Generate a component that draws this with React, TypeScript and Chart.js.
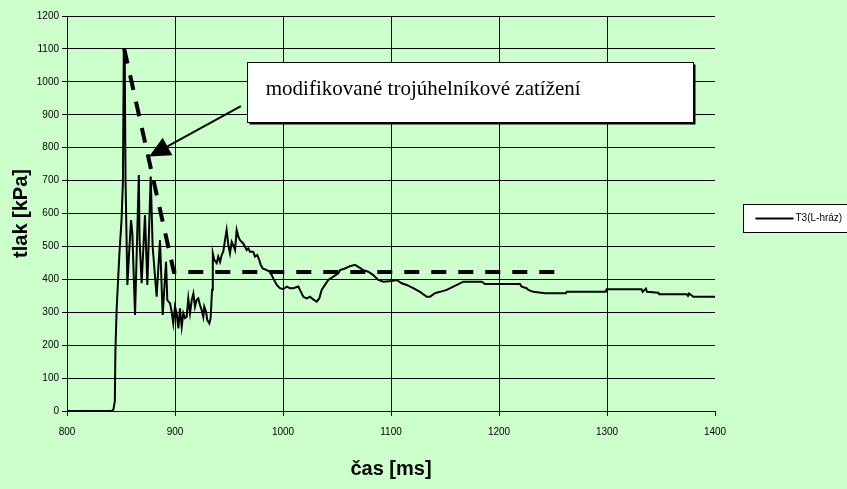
import React, { useEffect, useRef } from "react";
import { Chart, registerables } from "chart.js";

Chart.register(...registerables);

// ---------- data ----------
const seriesLabel = "T3(L-hráz)";

const timeMs = [
  800, 841.5, 843, 844.3, 844.8, 846, 848.4, 850.5, 851.8, 852.6, 853.4, 854.2, 855.9,
  857.5, 859.3, 860.5, 863, 866.5, 867.2, 869.1, 872.2, 874.4, 877.5, 879.3, 883, 886.1,
  888.6, 891.7, 892.9, 895.4, 896.9, 898.4, 900, 901.5, 903.1, 904.6, 906.2, 907.7, 909.3,
  910.8, 912.3, 913.9, 915.5, 917, 918.5, 920, 921.6, 923.1, 924.7, 926.2, 927.1, 928.7,
  929.9, 931.8, 933, 934.3, 935, 936.4, 938.6, 940, 941.7, 943.2, 944.7, 946.3, 947.8,
  949.4, 950.9, 952.5, 954, 955.6, 957.1, 958.6, 960.2, 963.2, 966.4, 967.9, 969.4, 972.5,
  974.1, 976.2, 978, 979.4, 981.2, 984.9, 988, 991, 994.2, 997.2, 1000.3, 1003.4, 1006.5,
  1009.5, 1014.2, 1015.7, 1018.8, 1021.9, 1025, 1028, 1031.2, 1033.6, 1035.8, 1038.9,
  1041.9, 1046.6, 1051.2, 1052.8, 1057.4, 1062, 1066.7, 1069.7, 1074.4, 1079, 1083.6,
  1088.2, 1092.9, 1100.6, 1105.3, 1109.9, 1114.5, 1120.6, 1126.9, 1133.1, 1136, 1140.7,
  1145.4, 1151.6, 1157.7, 1163.9, 1167, 1184, 1187, 1219.4, 1221, 1225.6, 1227.1, 1231.8,
  1242.6, 1262, 1262.7, 1298.8, 1299.7, 1332, 1333, 1336, 1337, 1347.5, 1348.4, 1373.8,
  1375, 1376, 1380, 1400,
];

const pressureKPa = [
  0, 0, 5, 30, 180, 312, 470, 580, 700, 1100, 1100, 700, 383,
  480, 580, 540, 292, 717, 520, 388, 595, 383, 712, 499, 347, 519,
  292, 453, 337, 327, 302, 266, 317, 297, 251, 312, 256, 297, 282,
  286, 342, 297, 337, 357, 317, 337, 342, 322, 307, 286, 317, 302,
  276, 266, 282, 368, 479, 459, 449, 469, 453, 474, 484, 519, 550,
  504, 479, 514, 504, 489, 550, 530, 519, 509, 489, 494, 484, 484,
  469, 474, 459, 444, 433, 428, 423, 403, 383, 373, 370, 378, 373,
  373, 378, 368, 347, 342, 347, 339, 332, 342, 368, 383,
  398, 408, 418, 428, 433, 440, 444, 438, 428, 423, 413,
  398, 393, 395, 398, 388, 383, 373, 362, 347, 347, 358,
  362, 368, 378, 388, 393, 393, 386, 386, 378, 373, 368, 362,
  358, 358, 362, 362, 370, 370, 362, 372, 362, 359, 355, 355,
  350, 357, 347, 347,
];

// modified triangular load (dashed)
const triangleTimeMs = [853, 899, 1253];
const triangleKPa = [1100, 422, 422];

const xTickValues = [800, 900, 1000, 1100, 1200, 1300, 1400];
const yTickValues = [0, 100, 200, 300, 400, 500, 600, 700, 800, 900, 1000, 1100, 1200];

const xTitle = "čas [ms]";
const yTitle = "tlak [kPa]";
const noteText = "modifikované trojúhelníkové zatížení";

// annotation placement in data units (box corners, text anchor, arrow start/tip)
const noteBox = { t1: 967, t2: 1380, p1: 1060, p2: 878 };
const noteTextAnchor = { t: 984, p: 976 };
const arrowFrom = { t: 961, p: 926 };
const arrowTo = { t: 876, p: 773 };

export default function App() {
  const canvasRef = useRef<HTMLCanvasElement | null>(null);

  useEffect(() => {
    const canvas = canvasRef.current;
    if (!canvas) return;

    const bgPlugin = {
      id: "bg",
      beforeDraw(chart: any) {
        const c = chart.ctx;
        c.save();
        c.fillStyle = "#CCFFCC";
        c.fillRect(0, 0, chart.width, chart.height);
        c.restore();
      },
    };

    const overlayPlugin = {
      id: "overlay",
      afterDraw(chart: any) {
        const c = chart.ctx;
        const xs = chart.scales.x;
        const ys = chart.scales.y;
        const area = chart.chartArea;
        c.save();

        // annotation box with shadow
        const bx1 = Math.round(xs.getPixelForValue(noteBox.t1)) + 0.5;
        const bx2 = Math.round(xs.getPixelForValue(noteBox.t2)) + 0.5;
        const by1 = Math.round(ys.getPixelForValue(noteBox.p1)) + 0.5;
        const by2 = Math.round(ys.getPixelForValue(noteBox.p2)) + 0.5;
        c.fillStyle = "#000";
        c.fillRect(bx1 + 2, by1 + 2, bx2 - bx1, by2 - by1);
        c.fillStyle = "#fff";
        c.fillRect(bx1, by1, bx2 - bx1, by2 - by1);
        c.strokeStyle = "#000";
        c.lineWidth = 1;
        c.strokeRect(bx1, by1, bx2 - bx1, by2 - by1);

        c.fillStyle = "#000";
        c.font = "21px 'Liberation Serif', 'Times New Roman', serif";
        c.textAlign = "left";
        c.textBaseline = "middle";
        c.fillText(
          noteText,
          xs.getPixelForValue(noteTextAnchor.t),
          ys.getPixelForValue(noteTextAnchor.p)
        );

        // arrow
        const ax1 = xs.getPixelForValue(arrowFrom.t);
        const ay1 = ys.getPixelForValue(arrowFrom.p);
        const ax2 = xs.getPixelForValue(arrowTo.t);
        const ay2 = ys.getPixelForValue(arrowTo.p);
        const dx = ax2 - ax1;
        const dy = ay2 - ay1;
        const len = Math.hypot(dx, dy);
        const ux = dx / len;
        const uy = dy / len;
        const headLen = 21;
        const headHalf = 10;
        const bxc = ax2 - ux * headLen;
        const byc = ay2 - uy * headLen;
        c.strokeStyle = "#000";
        c.lineWidth = 2;
        c.beginPath();
        c.moveTo(ax1, ay1);
        c.lineTo(bxc, byc);
        c.stroke();
        c.beginPath();
        c.moveTo(ax2, ay2);
        c.lineTo(bxc - uy * headHalf, byc + ux * headHalf);
        c.lineTo(bxc + uy * headHalf, byc - ux * headHalf);
        c.closePath();
        c.fill();

        // legend
        const lx = Math.round(area.right + 28) + 0.5;
        const ly = Math.round(area.top + 188) + 0.5;
        const lw = 110;
        const lh = 28;
        c.fillStyle = "#fff";
        c.fillRect(lx, ly, lw, lh);
        c.strokeStyle = "#000";
        c.lineWidth = 1;
        c.strokeRect(lx, ly, lw, lh);
        const midY = ly + lh / 2;
        c.lineWidth = 2;
        c.beginPath();
        c.moveTo(lx + 12, midY);
        c.lineTo(lx + 50, midY);
        c.stroke();
        c.fillStyle = "#000";
        c.font = "10px 'Liberation Sans', Arial, sans-serif";
        c.textBaseline = "middle";
        c.fillText(chart.data.datasets[0].label, lx + 52, midY);

        c.restore();
      },
    };

    const chart = new Chart(canvas, {
      type: "line",
      data: {
        datasets: [
          {
            label: seriesLabel,
            data: timeMs.map((t, i) => ({ x: t, y: pressureKPa[i] })),
            borderColor: "#000",
            borderWidth: 2,
            pointRadius: 0,
            tension: 0,
            fill: false,
          },
          {
            label: "triangle",
            data: triangleTimeMs.map((t, i) => ({ x: t, y: triangleKPa[i] })),
            borderColor: "#000",
            borderWidth: 4,
            borderDash: [15, 12],
            pointRadius: 0,
            tension: 0,
            fill: false,
          },
        ],
      },
      options: {
        animation: false,
        responsive: true,
        maintainAspectRatio: false,
        layout: { padding: { left: 0, top: 16, right: 132, bottom: 0 } },
        plugins: {
          legend: { display: false },
          tooltip: { enabled: false },
        },
        scales: {
          x: {
            type: "linear",
            min: 800,
            max: 1400,
            afterBuildTicks: (s: any) => {
              s.ticks = xTickValues.map((v) => ({ value: v }));
            },
            afterFit: (s: any) => {
              s.height = 78;
            },
            ticks: {
              color: "#000",
              font: { family: "'Liberation Sans', Arial, sans-serif", size: 10 },
              padding: 10,
              maxRotation: 0,
              autoSkip: false,
              callback: (v: any) => String(v),
            },
            grid: {
              color: (ctx: any) =>
                ctx.tick && ctx.tick.value === 1400 ? "rgba(0,0,0,0)" : "#000",
              tickColor: "#000",
              tickLength: 5,
              lineWidth: 1,
            },
            border: { color: "#000", width: 1 },
            title: {
              display: true,
              text: xTitle,
              color: "#000",
              font: { family: "'Liberation Sans', Arial, sans-serif", size: 20, weight: "bold" },
              padding: { top: 0, bottom: 8 },
            },
          },
          y: {
            type: "linear",
            min: 0,
            max: 1200,
            afterBuildTicks: (s: any) => {
              s.ticks = yTickValues.map((v) => ({ value: v }));
            },
            afterFit: (s: any) => {
              s.width = 67;
            },
            ticks: {
              color: "#000",
              font: { family: "'Liberation Sans', Arial, sans-serif", size: 10 },
              padding: 3,
              autoSkip: false,
              callback: (v: any) => String(v),
            },
            grid: {
              color: "#000",
              tickColor: "#000",
              tickLength: 5,
              lineWidth: 1,
            },
            border: { color: "#000", width: 1 },
            title: {
              display: true,
              text: yTitle,
              color: "#000",
              font: { family: "'Liberation Sans', Arial, sans-serif", size: 20, weight: "bold" },
              padding: { top: 9, bottom: 0 },
            },
          },
        },
      } as any,
      plugins: [bgPlugin, overlayPlugin],
    });

    return () => {
      chart.destroy();
    };
  }, []);

  return (
    <div style={{ position: "absolute", left: 0, top: 0, width: 847, height: 489 }}>
      <canvas ref={canvasRef} />
    </div>
  );
}
